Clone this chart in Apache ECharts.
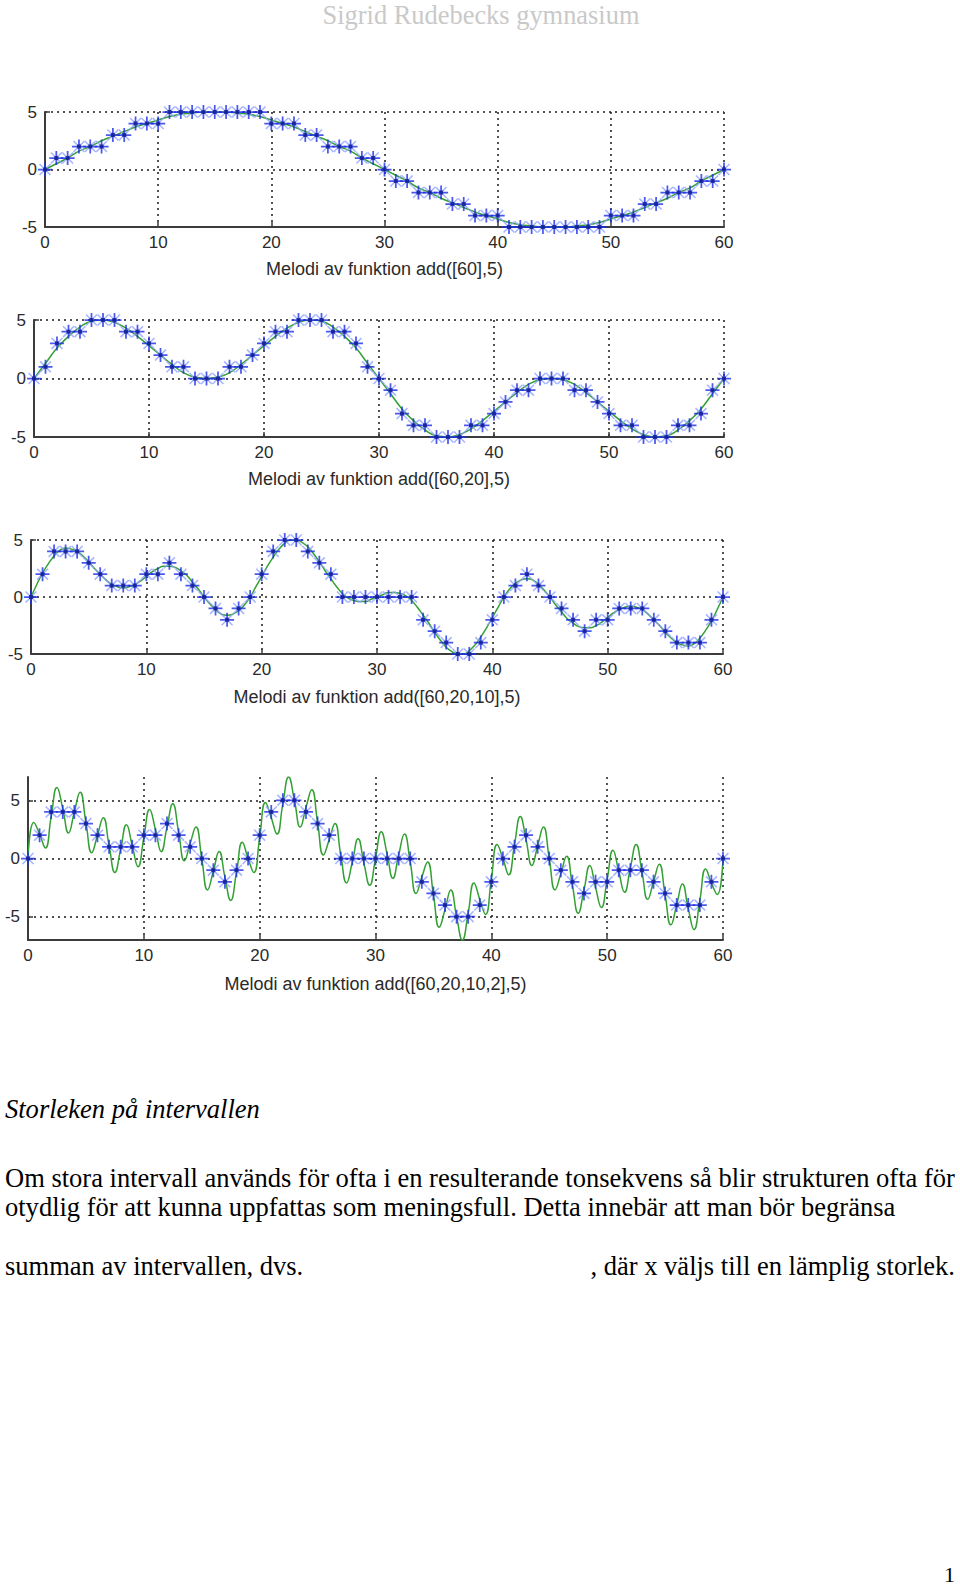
<!DOCTYPE html>
<html>
<head>
<meta charset="utf-8">
<title>Melodi av funktion add</title>
<script src="https://cdn.jsdelivr.net/npm/echarts@6/dist/echarts.min.js"></script>
<style>
html, body { margin: 0; padding: 0; background: #fff; }
#main { width: 960px; height: 1588px; }
</style>
</head>
<body>
<div id="main"></div>
<script>
// tick values
const xTicks = [0, 10, 20, 30, 40, 50, 60]
const yTicks = [-5, 0, 5]
// axis titles
const xNames = [
  'Melodi av funktion add([60],5)',
  'Melodi av funktion add([60,20],5)',
  'Melodi av funktion add([60,20,10],5)',
  'Melodi av funktion add([60,20,10,2],5)'
]

// stars, one per x = 0..60
const melody1 = [0, 1, 1, 2, 2, 2, 3, 3, 4, 4, 4, 5, 5, 5, 5, 5, 5, 5, 5, 5, 4, 4, 4, 3, 3, 2, 2, 2, 1, 1, 0,
  -1, -1, -2, -2, -2, -3, -3, -4, -4, -4, -5, -5, -5, -5, -5, -5, -5, -5, -5, -4, -4, -4, -3, -3, -2, -2, -2, -1, -1, 0]
const melody2 = [0, 1, 3, 4, 4, 5, 5, 5, 4, 4, 3, 2, 1, 1, 0, 0, 0, 1, 1, 2, 3, 4, 4, 5, 5, 5, 4, 4, 3, 1, 0,
  -1, -3, -4, -4, -5, -5, -5, -4, -4, -3, -2, -1, -1, 0, 0, 0, -1, -1, -2, -3, -4, -4, -5, -5, -5, -4, -4, -3, -1, 0]
const melody3 = [0, 2, 4, 4, 4, 3, 2, 1, 1, 1, 2, 2, 3, 2, 1, 0, -1, -2, -1, 0, 2, 4, 5, 5, 4, 3, 2, 0, 0, 0, 0,
  0, 0, 0, -2, -3, -4, -5, -5, -4, -2, 0, 1, 2, 1, 0, -1, -2, -3, -2, -2, -1, -1, -1, -2, -3, -4, -4, -4, -2, 0]
const melody4 = [0, 2, 4, 4, 4, 3, 2, 1, 1, 1, 2, 2, 3, 2, 1, 0, -1, -2, -1, 0, 2, 4, 5, 5, 4, 3, 2, 0, 0, 0, 0,
  0, 0, 0, -2, -3, -4, -5, -5, -4, -2, 0, 1, 2, 1, 0, -1, -2, -3, -2, -2, -1, -1, -1, -2, -3, -4, -4, -4, -2, 0]

// green curves: curve1/curve2 read every 1 step, curve3/curve4 every 0.5 step
const curve1 = [0, 0.5, 1.0, 1.6, 2.0, 2.5, 2.9, 3.3, 3.7, 4.0, 4.3, 4.6, 4.8, 4.9, 5.0, 5.0, 5.0, 4.9, 4.8, 4.6, 4.3,
  4.0, 3.7, 3.3, 2.9, 2.5, 2.0, 1.6, 1.0, 0.5, 0, -0.5, -1.0, -1.6, -2.0, -2.5, -2.9, -3.3, -3.7, -4.0, -4.3,
  -4.6, -4.8, -4.9, -5.0, -5.0, -5.0, -4.9, -4.8, -4.6, -4.3, -4.0, -3.7, -3.3, -2.9, -2.5, -2.0, -1.6, -1.0, -0.5, 0]
const curve2 = [0, 1.3, 2.6, 3.6, 4.4, 4.9, 5.0, 4.8, 4.3, 3.6, 2.8, 2.0, 1.2, 0.5, 0.1, 0, 0.1, 0.5, 1.2, 2.0, 2.8,
  3.6, 4.3, 4.8, 5.0, 4.9, 4.4, 3.6, 2.6, 1.3, 0, -1.3, -2.6, -3.6, -4.4, -4.9, -5.0, -4.8, -4.3, -3.6, -2.8,
  -2.0, -1.2, -0.5, -0.1, 0, -0.1, -0.5, -1.2, -2.0, -2.8, -3.6, -4.3, -4.8, -5.0, -4.9, -4.4, -3.6, -2.6, -1.3, 0]
const curve3 = [0, 1.1, 2.1, 2.9, 3.6, 4.1, 4.3, 4.2, 4.0, 3.6, 3.1, 2.5, 2.0, 1.5, 1.1, 0.9, 0.8, 0.9, 1.1, 1.4,
  1.8, 2.2, 2.5, 2.7, 2.7, 2.6, 2.3, 1.9, 1.3, 0.7, 0, -0.6, -1.1, -1.5, -1.6, -1.5, -1.2, -0.7, 0, 0.9,
  1.8, 2.7, 3.5, 4.2, 4.7, 5.0, 5.0, 4.8, 4.4, 3.8, 3.1, 2.3, 1.6, 0.9, 0.3, -0.1, -0.3, -0.4, -0.4, -0.2,
  0, 0.2, 0.4, 0.4, 0.3, 0.1, -0.3, -0.9, -1.6, -2.3, -3.1, -3.8, -4.4, -4.8, -5.0, -5.0, -4.7, -4.2, -3.5, -2.7,
  -1.8, -0.9, 0, 0.7, 1.2, 1.5, 1.6, 1.5, 1.1, 0.6, 0, -0.7, -1.3, -1.9, -2.3, -2.6, -2.7, -2.7, -2.5, -2.2,
  -1.8, -1.4, -1.1, -0.9, -0.8, -0.9, -1.1, -1.5, -2.0, -2.5, -3.1, -3.6, -4.0, -4.2, -4.3, -4.1, -3.6, -2.9, -2.1, -1.1, 0]
const curve4 = [0, 3.1, 2.1, 0.9, 3.6, 6.1, 4.3, 2.2, 4.0, 5.7, 3.1, 0.5, 2.0, 3.5, 1.1, -1.2, 0.8, 2.9, 1.1, -0.7,
  1.8, 4.2, 2.5, 0.6, 2.7, 4.7, 2.3, -0.2, 1.3, 2.7, 0, -2.7, -1.1, 0.6, -1.6, -3.6, -1.2, 1.4, 0, -1.2,
  1.8, 4.8, 3.5, 2.1, 4.7, 7.0, 5.0, 2.7, 4.4, 5.9, 3.1, 0.3, 1.6, 3.0, 0.3, -2.1, -0.3, 1.7, -0.4, -2.3,
  0, 2.3, 0.4, -1.7, 0.3, 2.1, -0.3, -3.0, -1.6, -0.3, -3.1, -5.9, -4.4, -2.7, -5.0, -7.0, -4.7, -2.1, -3.5, -4.8,
  -1.8, 1.2, 0, -1.4, 1.2, 3.6, 1.6, -0.6, 1.1, 2.7, 0, -2.7, -1.3, 0.2, -2.3, -4.7, -2.7, -0.6, -2.5, -4.2,
  -1.8, 0.7, -1.1, -2.9, -0.8, 1.2, -1.1, -3.5, -2.0, -0.5, -3.1, -5.7, -4.0, -2.2, -4.3, -6.1, -3.6, -0.9, -2.1, -3.1, 0]

const melodies = [melody1, melody2, melody3, melody4]
const curves = [curve1, curve2, curve3, curve4]
const curveSteps = [1, 1, 0.5, 0.5]

// plot boxes in pixels
const boxes = [
  { left: 45, top: 112, width: 679, height: 115, ymin: -5, ymax: 5, gap: 33 },
  { left: 34, top: 320, width: 690, height: 117, ymin: -5, ymax: 5, gap: 33 },
  { left: 31, top: 540, width: 692, height: 114, ymin: -5, ymax: 5, gap: 34 },
  { left: 28, top: 777, width: 695, height: 163, ymin: -7, ymax: 7, gap: 35 }
]

const sans = 'Liberation Sans'
const serif = 'Liberation Serif'
const axisColor = '#3c3c3c'
const dotted = { color: '#1a1a1a', type: [2, 4], width: 1.5 }
const plusPath = 'path://M10.5 0H13.5V10.5H24V13.5H13.5V24H10.5V13.5H0V10.5H10.5Z'
const crossPath = 'path://M3.2 1.2L22.8 20.8L20.8 22.8L1.2 3.2ZM20.8 1.2L22.8 3.2L3.2 22.8L1.2 20.8Z'

const grid = []
const xAxis = []
const yAxis = []
const series = []
boxes.forEach((b, i) => {
  grid.push({ left: b.left, top: b.top, width: b.width, height: b.height })
  xAxis.push({
    gridIndex: i,
    type: 'value',
    min: xTicks[0],
    max: xTicks[xTicks.length - 1],
    interval: 10,
    name: xNames[i],
    nameLocation: 'middle',
    nameGap: b.gap,
    nameTextStyle: { fontFamily: sans, fontSize: 18, color: '#2a2a2a' },
    axisLine: { onZero: false, lineStyle: { color: axisColor, width: 2 } },
    axisTick: { inside: true, length: 5, lineStyle: { color: axisColor, width: 1.5 } },
    axisLabel: { margin: 7, fontFamily: sans, fontSize: 17, color: '#2a2a2a' },
    splitLine: { show: true, lineStyle: dotted }
  })
  const y = {
    gridIndex: i,
    type: 'value',
    min: b.ymin,
    max: b.ymax,
    axisLine: { show: true, onZero: false, lineStyle: { color: axisColor, width: 2 } },
    axisTick: { show: true, inside: true, length: 5, lineStyle: { color: axisColor, width: 1.5 } },
    axisLabel: { margin: 8, fontFamily: sans, fontSize: 17, color: '#2a2a2a' },
    splitLine: { show: true, lineStyle: dotted }
  }
  if (b.ymin === yTicks[0]) {
    y.interval = 5
  } else {
    y.axisTick.customValues = yTicks
    y.axisLabel.customValues = yTicks
  }
  yAxis.push(y)

  const pts = melodies[i].map((v, k) => [k, v])
  series.push({
    type: 'line',
    xAxisIndex: i,
    yAxisIndex: i,
    data: curves[i].map((v, k) => [k * curveSteps[i], v]),
    smooth: 0.5,
    symbol: 'none',
    lineStyle: { color: '#33a033', width: 1.5 },
    z: 2
  })
  // star marker: light x, blue +, dark centre
  series.push({
    type: 'scatter',
    xAxisIndex: i,
    yAxisIndex: i,
    data: pts,
    symbol: crossPath,
    symbolSize: 12,
    itemStyle: { color: '#92a2ff' },
    z: 3
  })
  series.push({
    type: 'scatter',
    xAxisIndex: i,
    yAxisIndex: i,
    data: pts,
    symbol: plusPath,
    symbolSize: 14,
    itemStyle: { color: '#1c2ee8' },
    z: 4
  })
  series.push({
    type: 'scatter',
    xAxisIndex: i,
    yAxisIndex: i,
    data: pts,
    symbol: 'rect',
    symbolSize: 4,
    itemStyle: { color: '#101c8c' },
    z: 5
  })
})

// page text
const header = 'Sigrid Rudebecks gymnasium'
const heading = 'Storleken på intervallen'
const line1 = 'Om stora intervall används för ofta i en resulterande tonsekvens så blir strukturen ofta för'
const line2 = 'otydlig för att kunna uppfattas som meningsfull. Detta innebär att man bör begränsa'
const line3a = 'summan av intervallen, dvs.'
const line3b = ', där x väljs till en lämplig storlek.'

// font size so that a text fills a given width
function fitSize(text, width, style) {
  const ctx = document.createElement('canvas').getContext('2d')
  ctx.font = style + ' 100px "' + serif + '"'
  return 100 * width / ctx.measureText(text).width
}
const bodySize = fitSize(line1, 950, 'normal')
const headerSize = fitSize(header, 317, 'normal')

function txt(text, x, y, size, align, extra) {
  return {
    type: 'text',
    x: x,
    y: y,
    style: Object.assign({
      text: text,
      font: size.toFixed(2) + 'px "' + serif + '"',
      fill: '#000',
      align: align,
      verticalAlign: 'middle'
    }, extra || {})
  }
}

const chart = echarts.init(document.getElementById('main'), null, { renderer: 'svg' })
chart.setOption({
  animation: false,
  backgroundColor: '#fff',
  grid: grid,
  xAxis: xAxis,
  yAxis: yAxis,
  series: series,
  graphic: [
    txt(header, 481, 15, headerSize, 'center', { fill: '#c9c9c9' }),
    txt(heading, 5, 1109, bodySize, 'left', { font: 'italic ' + bodySize.toFixed(2) + 'px "' + serif + '"' }),
    txt(line1, 5, 1178, bodySize, 'left'),
    txt(line2, 5, 1207, bodySize, 'left'),
    txt(line3a, 5, 1266, bodySize, 'left'),
    txt(line3b, 955, 1266, bodySize, 'right'),
    txt('1', 955, 1585, 22, 'right', { verticalAlign: 'bottom' })
  ]
})
</script>
</body>
</html>
